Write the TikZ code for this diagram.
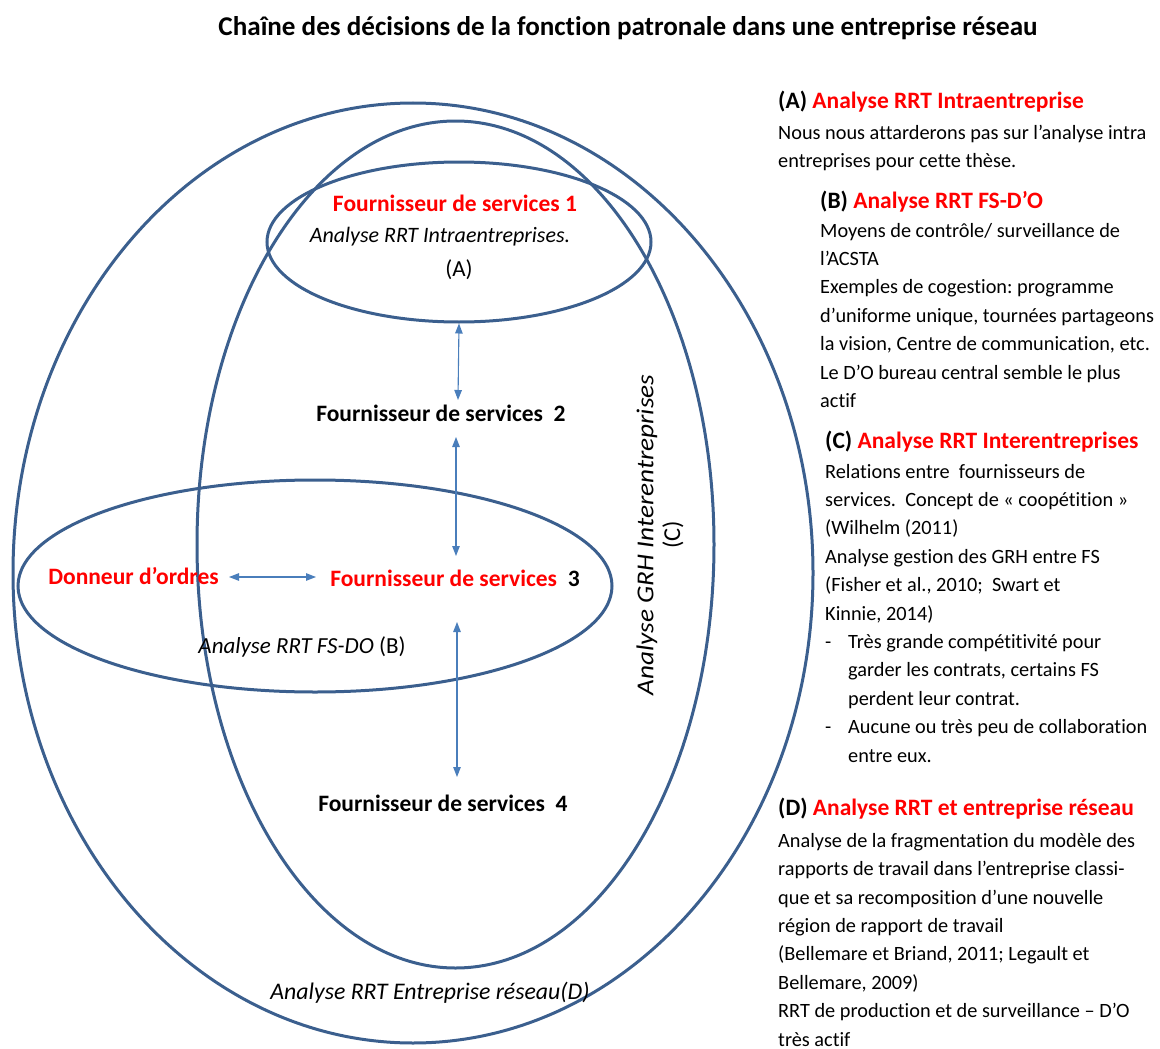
\documentclass[tikz,border=0pt]{standalone}
\usepackage{fontspec}
\setmainfont{Carlito}[Ligatures={NoCommon,NoContextual}]
\frenchspacing
\usetikzlibrary{shapes.geometric,arrows.meta}
\definecolor{ringblue}{HTML}{3B5F8E}
\definecolor{arrowblue}{HTML}{4A7EBB}
\definecolor{hired}{HTML}{FF0000}
\begin{document}
\begin{tikzpicture}[x=1pt,y=-1pt,
  ring/.style={draw=ringblue,line width=3pt,ellipse,inner sep=0pt},
  link/.style={draw=arrowblue,line width=1.1pt,
    {Triangle[length=10pt,width=7.5pt]}-{Triangle[length=10pt,width=7.5pt]}},
  actor/.style={inner sep=0pt,font=\bfseries\fontsize{23.5}{28}\selectfont},
  redactor/.style={actor,text=hired},
  zone/.style={inner sep=0pt,font=\itshape\fontsize{23.8}{28}\selectfont},
  tag/.style={inner sep=0pt,font=\fontsize{23}{28}\selectfont},
  head/.style={inner sep=0pt,anchor=base west,font=\bfseries\fontsize{23.5}{28}\selectfont},
  % multi-line blocks: the base anchor sits on the last line
  body/.style={inner sep=0pt,anchor=base west,align=left,font=\fontsize{20.3}{28.4}\selectfont}
]
\useasboundingbox (0,0) rectangle (1160,1049);

% title
\node[inner sep=0pt,font=\bfseries\fontsize{27.1}{30}\selectfont] (title) at (628,28)
  {Chaîne des décisions de la fonction patronale dans une entreprise réseau};

% nested analysis zones
\node[ring,minimum width=800pt,minimum height=940pt] (ringD) at (413,573) {};
\node[ring,minimum width=517pt,minimum height=847pt] (ringC) at (455.5,544.5) {};
\node[ring,minimum width=384pt,minimum height=160pt] (ringA) at (459,242) {};
\node[ring,minimum width=594pt,minimum height=212pt] (ringB) at (315,586) {};

% actors and zone labels
\node[redactor] (fs1) at (455,203) {Fournisseur de services 1};
\node[zone,font=\itshape\fontsize{22}{26}\selectfont] (labA) at (440,237) {Analyse RRT Intraentreprises.};
\node[tag] (tagA) at (459,270) {(A)};
\node[actor] (fs2) at (441,413) {Fournisseur de services\ \ 2};
\node[redactor] (donneur) at (133.5,576) {Donneur d’ordres};
\node[actor] (fs3) at (455,578) {\textcolor{hired}{Fournisseur de services}\ \ 3};
\node[tag] (labB) at (302,647) {\textit{Analyse RRT FS-DO} (B)};
\node[actor] (fs4) at (443,803) {Fournisseur de services\ \ 4};
\node[zone,font=\itshape\fontsize{24.3}{28}\selectfont,rotate=90] (labC) at (647,535)
  {\scalebox{1.12}[1]{Analyse GRH Interentreprises}};
\node[tag,font=\fontsize{24.3}{28}\selectfont,rotate=90] (tagC) at (673,535) {(C)};
\node[zone] (labD) at (430,993) {Analyse RRT Entreprise réseau(D)};

% links between the actors
\coordinate (l1b) at (458,400);
\coordinate (l2a) at (456,437);
\coordinate (l2b) at (456,556);
\coordinate (l3a) at (229,577);
\coordinate (l3b) at (316,577);
\coordinate (l4a) at (457,622);
\coordinate (l4b) at (457,777);
\draw[link] (ringA.south) -- (l1b);
\draw[link] (l2a) -- (l2b);
\draw[link] (l3a) -- (l3b);
\draw[link] (l4a) -- (l4b);

% descriptions
\node[head] (hA) at (778,108) {(A) \textcolor{hired}{Analyse RRT Intraentreprise}};
\node[body] (tA) at (778,167.4) {Nous nous attarderons pas sur l’analyse intra\\
entreprises pour cette thèse.};

\node[head] (hB) at (820,208) {(B) \textcolor{hired}{Analyse RRT FS-D’O}};
\node[body] (tB) at (820,407.4) {Moyens de contrôle/ surveillance de\\
l’ACSTA\\
Exemples de cogestion: programme\\
d’uniforme unique, tournées partageons\\
la vision, Centre de communication, etc.\\
Le D’O bureau central semble le plus\\
actif};

\node[head] (hC) at (825,448) {(C) \textcolor{hired}{Analyse RRT Interentreprises}};
\node[body] (tC) at (825,762) {Relations entre~ fournisseurs de\\
services.~ Concept de « coopétition »\\
(Wilhelm (2011)\\
Analyse gestion des GRH entre FS\\
(Fisher et al., 2010;~ Swart et\\
Kinnie, 2014)\\
\makebox[23pt][l]{-}Très grande compétitivité pour\\
\hspace*{23pt}garder les contrats, certains FS\\
\hspace*{23pt}perdent leur contrat.\\
\makebox[23pt][l]{-}Aucune ou très peu de collaboration\\
\hspace*{23pt}entre eux.};

\node[head] (hD) at (778,815) {(D) \textcolor{hired}{Analyse RRT et entreprise réseau}};
\node[body] (tD) at (778,1046) {Analyse de la fragmentation du modèle des\\
rapports de travail dans l’entreprise classi-\\
que et sa recomposition d’une nouvelle\\
région de rapport de travail\\
(Bellemare et Briand, 2011; Legault et\\
Bellemare, 2009)\\
RRT de production et de surveillance – D’O\\
très actif};
\end{tikzpicture}
\end{document}
